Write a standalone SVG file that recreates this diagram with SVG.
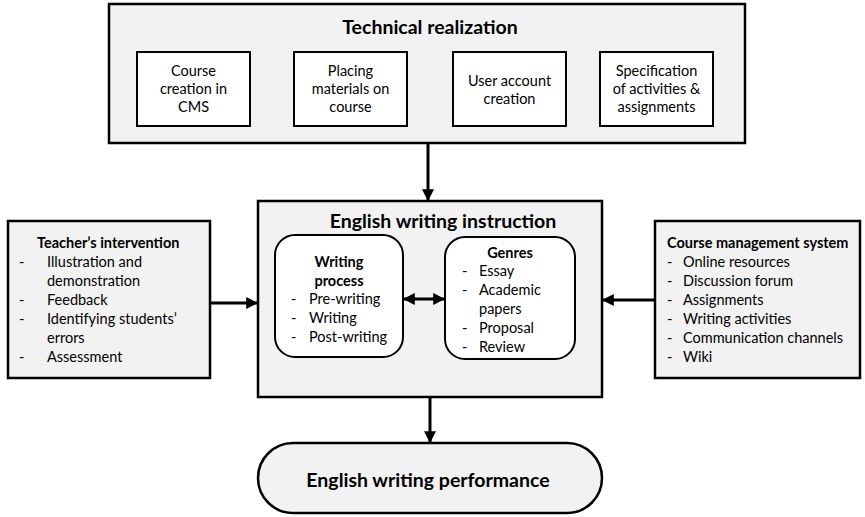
<svg xmlns="http://www.w3.org/2000/svg" width="865" height="517" viewBox="0 0 865 517">
<defs>
<style>
.box{fill:#f2f2f2;stroke:#000;stroke-width:2.5}
.inner{fill:#fff;stroke:#000;stroke-width:2}
text{font-family:Lato,"Open Sans","Liberation Sans",sans-serif;font-size:14.5px;fill:#000}
.t{font-weight:bold;font-size:19.5px}
.b{font-weight:bold}
.c{text-anchor:middle}
.conn{stroke:#000;stroke-width:3;fill:none}
</style>
<marker id="ah" viewBox="0 0 10 10" refX="9" refY="5" markerWidth="4" markerHeight="4" orient="auto-start-reverse" markerUnits="strokeWidth">
<path d="M0,0 L10,5 L0,10 z" fill="#000"/>
</marker>
</defs>

<g id="technical-realization">
<rect class="box" x="109" y="4" width="636" height="139"/>
<text class="t c" x="430" y="34">Technical realization</text>
<g id="course-creation">
<rect class="inner" x="137" y="52" width="113" height="74"/>
<text class="c" x="193.5" y="76">Course</text>
<text class="c" x="193.5" y="94">creation in</text>
<text class="c" x="193.5" y="112">CMS</text>
</g>
<g id="placing-materials">
<rect class="inner" x="294" y="52" width="113" height="74"/>
<text class="c" x="350.5" y="76">Placing</text>
<text class="c" x="350.5" y="94">materials on</text>
<text class="c" x="350.5" y="112">course</text>
</g>
<g id="user-account">
<rect class="inner" x="453" y="52" width="113" height="74"/>
<text class="c" x="509.5" y="86">User account</text>
<text class="c" x="509.5" y="104">creation</text>
</g>
<g id="specification">
<rect class="inner" x="600" y="52" width="113" height="74"/>
<text class="c" x="656.5" y="76">Specification</text>
<text class="c" x="656.5" y="94">of activities &amp;</text>
<text class="c" x="656.5" y="112">assignments</text>
</g>
</g>

<g id="english-writing-instruction">
<rect class="box" x="258" y="201" width="344" height="196"/>
<text class="t c" x="443" y="228">English writing instruction</text>
<g id="writing-process">
<rect class="inner" x="275" y="235" width="128" height="122" rx="20"/>
<text class="b c" x="339" y="267">Writing</text>
<text class="b c" x="339" y="286">process</text>
<text x="291" y="304">-</text><text x="309" y="304">Pre-writing</text>
<text x="291" y="323">-</text><text x="309" y="323">Writing</text>
<text x="291" y="342">-</text><text x="309" y="342">Post-writing</text>
</g>
<g id="genres">
<rect class="inner" x="445" y="237" width="130" height="122" rx="20"/>
<text class="b c" x="510" y="258">Genres</text>
<text x="462" y="276">-</text><text x="479" y="276">Essay</text>
<text x="462" y="295">-</text><text x="479" y="295">Academic</text>
<text x="479" y="314">papers</text>
<text x="462" y="333">-</text><text x="479" y="333">Proposal</text>
<text x="462" y="352">-</text><text x="479" y="352">Review</text>
</g>
</g>

<g id="teachers-intervention">
<rect class="box" x="8" y="221" width="202" height="157"/>
<text class="b" x="37" y="248">Teacher’s intervention</text>
<text x="19" y="267">-</text><text x="47" y="267">Illustration and</text>
<text x="47" y="286">demonstration</text>
<text x="19" y="305">-</text><text x="47" y="305">Feedback</text>
<text x="19" y="324">-</text><text x="47" y="324">Identifying students’</text>
<text x="47" y="343">errors</text>
<text x="19" y="362">-</text><text x="47" y="362">Assessment</text>
</g>

<g id="course-management-system">
<rect class="box" x="655" y="221" width="205" height="157"/>
<text class="b" x="667" y="248">Course management system</text>
<text x="667" y="267">-</text><text x="683" y="267">Online resources</text>
<text x="667" y="286">-</text><text x="683" y="286">Discussion forum</text>
<text x="667" y="305">-</text><text x="683" y="305">Assignments</text>
<text x="667" y="324">-</text><text x="683" y="324">Writing activities</text>
<text x="667" y="343">-</text><text x="683" y="343">Communication channels</text>
<text x="667" y="362">-</text><text x="683" y="362">Wiki</text>
</g>

<g id="english-writing-performance">
<rect class="box" x="258" y="443" width="344" height="70" rx="35"/>
<text class="t c" x="428" y="487">English writing performance</text>
</g>

<g id="connectors">
<line class="conn" x1="428" y1="143" x2="428" y2="200" marker-end="url(#ah)"/>
<line class="conn" x1="210" y1="303" x2="257" y2="303" marker-end="url(#ah)"/>
<line class="conn" x1="655" y1="300" x2="603" y2="300" marker-end="url(#ah)"/>
<line class="conn" x1="404" y1="299" x2="444" y2="299" marker-start="url(#ah)" marker-end="url(#ah)"/>
<line class="conn" x1="430" y1="397" x2="430" y2="442" marker-end="url(#ah)"/>
</g>
</svg>
